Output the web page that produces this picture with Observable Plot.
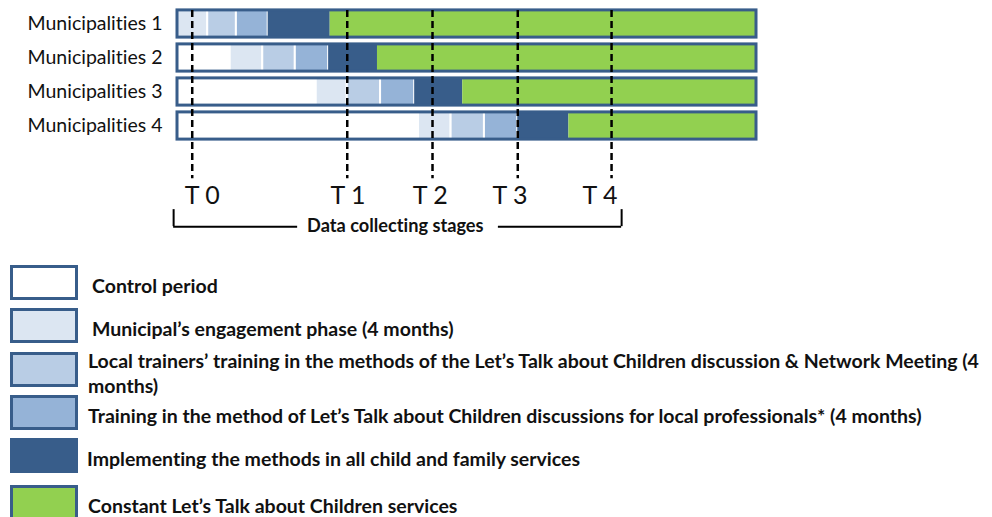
<!DOCTYPE html>
<html>
<head>
<meta charset="utf-8">
<script src="https://cdn.jsdelivr.net/npm/d3@7"></script>
<script src="https://cdn.jsdelivr.net/npm/@observablehq/plot@0.6"></script>
<style>
  html, body { margin: 0; padding: 0; background: #fff; }
  #wrap { width: 992px; font-family: "Lato", sans-serif; font-variant-ligatures: none; }
  #wrap svg text { font-variant-ligatures: none; }
  #legend { position: relative; width: 992px; height: 267px; }
  .sw { position: absolute; left: 10px; width: 68px; height: 35px; box-sizing: border-box; border: 3px solid #385d8a; }
  .lt { position: absolute; font-weight: bold; font-size: 19.5px; line-height: 25px; color: #111; width: 900px; }
</style>
</head>
<body>
<div id="wrap"></div>
<script>
// ---- data ----
const rows = ["Municipalities 1", "Municipalities 2", "Municipalities 3", "Municipalities 4"];
const phases = [
  "Control period",
  "Municipal’s engagement phase (4 months)",
  "Local trainers’ training in the methods of the Let’s Talk about Children discussion & Network Meeting (4 months)",
  "Training in the method of Let’s Talk about Children discussions for local professionals* (4 months)",
  "Implementing the methods in all child and family services",
  "Constant Let’s Talk about Children services"
];
const phaseColors = ["#ffffff", "#dce6f2", "#b9cde5", "#95b3d7", "#385d8a", "#92d050"];
// start of each phase (months from timeline start), null = phase absent
const phaseStarts = [
  [null, 0, 3.9, 7.6, 11.7, 19.7],
  [0, 6.8, 11.0, 15.2, 19.5, 25.8],
  [0, 17.9, 21.9, 26.2, 30.6, 36.8],
  [0, 31.1, 35.3, 39.6, 43.9, 50.5]
];
const timelineEnd = 74.7;
const stages = ["T 0", "T 1", "T 2", "T 3", "T 4"];
const stageTimes = [1.9, 21.9, 32.9, 43.9, 56.0];
const stageLabelTimes = [3.2, 22.0, 32.6, 42.9, 54.5];
const bracketLabel = "Data collecting stages";

// ---- derived tables ----
const segs = [];
rows.forEach((r, ri) => {
  const s = phaseStarts[ri];
  s.forEach((v, pi) => {
    if (v === null) return;
    const next = s.slice(pi + 1).find(d => d !== null);
    segs.push({row: ri + 1, phase: pi, x1: v, x2: next === undefined ? timelineEnd : next});
  });
});
const outlines = rows.map((r, ri) => ({row: ri + 1, name: r, x1: 0, x2: timelineEnd}));
const stageData = stages.map((s, i) => ({label: s, x: stageTimes[i], lx: stageLabelTimes[i]}));

const half = 0.4;
const lightStroke = p => (p <= 3 ? "white" : "none");

const chart = Plot.plot({
  width: 992,
  height: 250,
  marginLeft: 177,
  marginRight: 236,
  marginTop: 6.5,
  marginBottom: 5.5,
  x: {domain: [0, timelineEnd], axis: null},
  y: {domain: [7.5, 0.5], axis: null},
  style: {fontFamily: "Lato, sans-serif", background: "white", overflow: "visible"},
  marks: [
    Plot.rect(segs, {
      x1: "x1", x2: "x2",
      y1: d => d.row - half, y2: d => d.row + half,
      fill: d => phaseColors[d.phase],
      stroke: d => lightStroke(d.phase),
      strokeWidth: 2
    }),
    Plot.rect(outlines, {
      x1: "x1", x2: "x2",
      y1: d => d.row - half, y2: d => d.row + half,
      fill: "none", stroke: "#385d8a", strokeWidth: 3
    }),
    Plot.text(outlines, {
      x: 0, y: "row", text: "name", textAnchor: "end", dx: -15,
      fontSize: 19.5, fill: "#111"
    }),
    Plot.ruleX(stageData, {
      x: "x", y1: 0.6, y2: 5.55, stroke: "black", strokeWidth: 2.5, strokeDasharray: "7,4"
    }),
    Plot.text(stageData, {
      x: "lx", y: 6.07, text: "label", fontSize: 25, fill: "#111"
    }),
    // bracket
    Plot.ruleX([-0.5, 57.3], {x: d => d, y1: 6.46, y2: 6.96, stroke: "black", strokeWidth: 2}),
    Plot.ruleY([{x1: -0.5, x2: 15.5}, {x1: 41.4, x2: 57.3}], {
      y: 6.96, x1: "x1", x2: "x2", stroke: "black", strokeWidth: 2
    }),
    Plot.text([bracketLabel], {
      x: 28.1, y: 6.96, text: d => d, fontSize: 18.2, fontWeight: "bold", fill: "#111"
    })
  ]
});
document.getElementById("wrap").appendChild(chart);

// ---- legend (HTML, below the SVG) ----
const legend = document.createElement("div");
legend.id = "legend";
const swTops = [15, 58, 102, 145, 188, 235];
const txtLeft = [92, 92, 88, 88, 87, 88];
phases.forEach((p, i) => {
  const sw = document.createElement("div");
  sw.className = "sw";
  sw.style.top = swTops[i] + "px";
  sw.style.background = phaseColors[i];
  legend.appendChild(sw);
  const t = document.createElement("div");
  t.className = "lt";
  t.textContent = p;
  t.style.left = txtLeft[i] + "px";
  legend.appendChild(t);
});
document.getElementById("wrap").appendChild(legend);
legend.querySelectorAll(".lt").forEach((t, i) => {
  const h = t.getBoundingClientRect().height;
  t.style.top = (swTops[i] + 17.5 - h / 2 + 3) + "px";
});
</script>
</body>
</html>
